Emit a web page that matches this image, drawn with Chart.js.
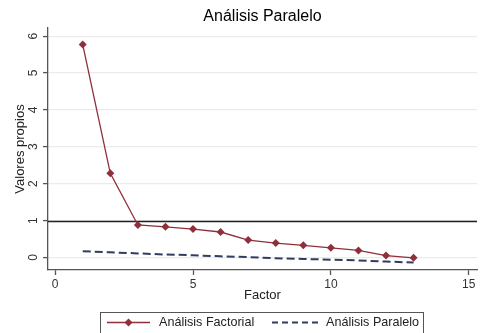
<!DOCTYPE html>
<html>
<head>
<meta charset="utf-8">
<style>
  html, body { margin: 0; padding: 0; background: #fff; }
  #wrap { width: 484px; height: 333px; position: relative; }
</style>
<script src="https://cdn.jsdelivr.net/npm/chart.js@4"></script>
</head>
<body>
<div id="wrap"><canvas id="c"></canvas></div>
<script>
// Eigenvalues per factor
const factors = [1, 2, 3, 4, 5, 6, 7, 8, 9, 10, 11, 12, 13];
const factorialValues = [5.77, 2.28, 0.88, 0.83, 0.77, 0.69, 0.47, 0.39, 0.33, 0.26, 0.19, 0.05, -0.01];
const parallelValues = [0.17, 0.14, 0.11, 0.08, 0.06, 0.03, 0.01, -0.02, -0.04, -0.06, -0.08, -0.11, -0.14];
const xTicks = [0, 5, 10, 15];
const yTicks = [0, 1, 2, 3, 4, 5, 6];
const referenceLine = 1;

const titleText = 'Análisis Paralelo';
const seriesLabels = ['Análisis Factorial', 'Análisis Paralelo'];
const FONT = '"Liberation Sans", Arial, sans-serif';
const RED = '#8e2f3b';
const NAVY = '#2f3d5f';

const extras = {
  id: 'extras',
  beforeDatasetsDraw(chart) {
    const { ctx, chartArea: a, scales: { y } } = chart;
    // reference line at eigenvalue 1
    const py = Math.round(y.getPixelForValue(referenceLine)) + 0.5;
    ctx.save();
    ctx.strokeStyle = '#222';
    ctx.lineWidth = 1.3;
    ctx.beginPath();
    ctx.moveTo(a.left, py);
    ctx.lineTo(a.right, py);
    ctx.stroke();
    ctx.restore();
  },
  afterDraw(chart) {
    const { ctx, chartArea: a, scales: { y } } = chart;
    ctx.save();
    // title
    ctx.fillStyle = '#000';
    ctx.font = '16px ' + FONT;
    ctx.textAlign = 'center';
    ctx.textBaseline = 'middle';
    ctx.fillText(titleText, (a.left + a.right) / 2, 17);

    // rotated y tick labels
    ctx.font = '12px ' + FONT;
    ctx.fillStyle = '#333';
    yTicks.forEach(v => {
      const py = y.getPixelForValue(v);
      ctx.save();
      ctx.translate(34, py);
      ctx.rotate(-Math.PI / 2);
      ctx.fillText(String(v), 0, 0);
      ctx.restore();
    });

    // legend box
    ctx.strokeStyle = '#555';
    ctx.lineWidth = 1;
    ctx.strokeRect(100.5, 312.5, 323, 30);
    const ly = 322.5;
    // factorial item
    ctx.strokeStyle = RED;
    ctx.lineWidth = 1.3;
    ctx.beginPath();
    ctx.moveTo(107, ly);
    ctx.lineTo(150, ly);
    ctx.stroke();
    ctx.fillStyle = RED;
    ctx.beginPath();
    ctx.moveTo(128.5, ly - 4);
    ctx.lineTo(132.5, ly);
    ctx.lineTo(128.5, ly + 4);
    ctx.lineTo(124.5, ly);
    ctx.closePath();
    ctx.fill();
    // parallel item
    ctx.strokeStyle = NAVY;
    ctx.lineWidth = 2;
    ctx.setLineDash([6, 4]);
    ctx.beginPath();
    ctx.moveTo(272, ly);
    ctx.lineTo(318, ly);
    ctx.stroke();
    ctx.setLineDash([]);
    ctx.fillStyle = '#222';
    ctx.font = '12.6px ' + FONT;
    ctx.textAlign = 'left';
    ctx.fillText(seriesLabels[0], 159, ly + 0.5);
    ctx.fillText(seriesLabels[1], 326, ly + 0.5);
    ctx.restore();
  }
};

new Chart(document.getElementById('c'), {
  type: 'line',
  data: {
    datasets: [
      {
        label: seriesLabels[0],
        data: factors.map((f, i) => ({ x: f, y: factorialValues[i] })),
        borderColor: RED,
        backgroundColor: RED,
        borderWidth: 1.3,
        pointStyle: 'rectRot',
        pointRadius: 4,
        pointBorderWidth: 0,
        tension: 0
      },
      {
        label: seriesLabels[1],
        data: factors.map((f, i) => ({ x: f, y: parallelValues[i] })),
        borderColor: NAVY,
        backgroundColor: NAVY,
        borderWidth: 2,
        borderDash: [8, 4],
        pointRadius: 0,
        tension: 0
      }
    ]
  },
  options: {
    responsive: true,
    maintainAspectRatio: false,
    animation: false,
    layout: { padding: { top: 28, right: 7, bottom: 30, left: 0 } },
    plugins: {
      legend: { display: false },
      title: { display: false },
      tooltip: { enabled: false }
    },
    scales: {
      x: {
        type: 'linear',
        min: -0.26,
        max: 15.3,
        afterBuildTicks: s => { s.ticks = xTicks.map(v => ({ value: v })); },
        afterFit: s => { s.height = 33; },
        border: { color: '#555', width: 1.3 },
        grid: { drawOnChartArea: false, tickLength: 5, tickColor: '#555', tickWidth: 1.3 },
        ticks: { color: '#333', font: { family: FONT, size: 12 }, padding: 2, maxRotation: 0 },
        title: { display: true, text: 'Factor', color: '#222', font: { family: FONT, size: 13 }, padding: { top: 0, bottom: 0 } }
      },
      y: {
        type: 'linear',
        min: -0.34,
        max: 6.22,
        afterBuildTicks: s => { s.ticks = yTicks.map(v => ({ value: v })); },
        afterFit: s => { s.width = 48; },
        border: { color: '#555', width: 1.3 },
        grid: { color: '#ebebeb', lineWidth: 1.2, tickLength: 5, tickColor: '#555', tickWidth: 1.3 },
        ticks: { color: 'rgba(0,0,0,0)', font: { family: FONT, size: 12 } },
        title: { display: true, text: 'Valores propios', color: '#222', font: { family: FONT, size: 13 }, padding: { top: 13, bottom: 0 } }
      }
    }
  },
  plugins: [extras]
});
</script>
</body>
</html>
